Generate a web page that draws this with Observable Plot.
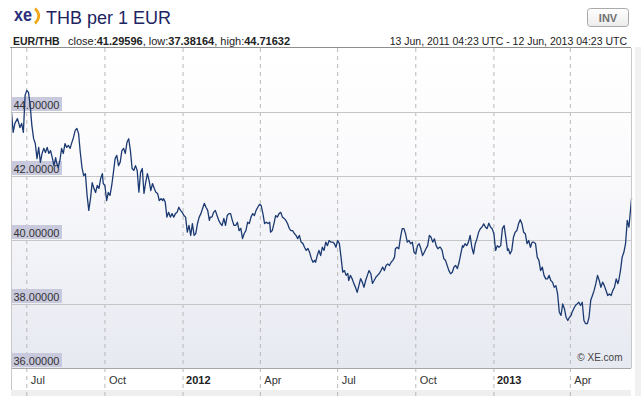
<!DOCTYPE html>
<html>
<head>
<meta charset="utf-8">
<script src="https://cdn.jsdelivr.net/npm/d3@7"></script>
<script src="https://cdn.jsdelivr.net/npm/@observablehq/plot@0.6"></script>
<style>
  body { margin: 0; background: #fff; font-family: "Liberation Sans", Arial, sans-serif; }
  #wrap { position: relative; width: 641px; height: 396px; overflow: hidden; background: #fff; }
  #header { position: absolute; left: 0; top: 0; }
  #chart { position: absolute; left: 0; top: 47px; }
  #strip { position: absolute; left: 11px; top: 390px; width: 620px; height: 6px; background: #efefef; }
  #rstrip { position: absolute; left: 635px; top: 47px; width: 6px; height: 349px; background: #f1f1f1; }
</style>
</head>
<body>
<div id="wrap">
  <div id="strip"></div>
  <div id="rstrip"></div>
  <svg id="header" width="641" height="48" xmlns="http://www.w3.org/2000/svg">
    <defs>
      <linearGradient id="btnGrad" x1="0" y1="0" x2="0" y2="1">
        <stop offset="0" stop-color="#ffffff"/>
        <stop offset="1" stop-color="#ececec"/>
      </linearGradient>
    </defs>
    <text x="14" y="21" font-size="19" font-weight="bold" fill="#28307c" textLength="18" lengthAdjust="spacingAndGlyphs" font-family="Liberation Sans, Arial, sans-serif">xe</text>
    <path d="M35,8.5 Q42.5,16 35,23.5" stroke="#f0a818" stroke-width="2.6" fill="none"/>
    <text x="46" y="24" font-size="18" fill="#1d2462" font-family="Liberation Sans, Arial, sans-serif">THB per 1 EUR</text>
    <text x="13" y="45" font-size="10.5" font-weight="bold" fill="#222" font-family="Liberation Sans, Arial, sans-serif">EUR/THB</text>
    <text x="68" y="45" font-size="11" fill="#222" font-family="Liberation Sans, Arial, sans-serif">close:<tspan font-weight="bold">41.29596</tspan>, low:<tspan font-weight="bold">37.38164</tspan>, high:<tspan font-weight="bold">44.71632</tspan></text>
    <text x="627" y="45" font-size="10.5" fill="#222" text-anchor="end" font-family="Liberation Sans, Arial, sans-serif">13 Jun, 2011 04:23 UTC - 12 Jun, 2013 04:23 UTC</text>
    <rect x="587.5" y="8.5" width="41" height="18" rx="3" fill="url(#btnGrad)" stroke="#aaaaaa"/>
    <text x="608" y="21.5" font-size="11" font-weight="bold" fill="#707070" text-anchor="middle" font-family="Liberation Sans, Arial, sans-serif">INV</text>
    <line x1="10" x2="631" y1="47.5" y2="47.5" stroke="#8e8e8e"/>
  </svg>
  <div id="chart"></div>
</div>
<script>
// ---- data: EUR/THB, day offset from start date and rate ----
const startDate = "2011-06-13";
const endDate = "2013-06-12";

// Jun 2011 - Feb 2012
const daysA = [0,2,4,7,10,12,14,16,18,20,22,24,26,28,30,32,34,36,38,40,42,44,46,48,50,52,53,55,57,59,61,63,65,67,69,71,73,75,77,79,81,83,85,87,89,91,93,95,97,99,101,103,105,107,108,110,112,114,116,118,120,122,124,126,
  128,130,132,134,136,138,140,142,144,146,148,150,152,154,156,158,160,162,164,166,168,170,172,174,176,178,179,181,183,185,187,189,191,193,195,197,199,201,203,205,207,209,211,213,215,217,219,221,223,225,227,229,231,233,234,236,238,240,242,244,246,248,250];
const ratesA = [44.01,43.38,43.66,43.81,43.53,43.66,43.38,44.53,44.69,44.63,44.22,43.59,43.19,43.03,42.56,42.91,42.44,42.72,42.88,42.75,42.91,42.72,42.81,42.59,42.34,42.59,42.44,42.28,42.5,42.88,42.72,43.03,42.91,42.97,42.88,43.06,43.22,43.44,43.5,43.34,42.75,42.28,42.03,42.09,41.41,40.94,41.31,41.81,41.63,41.5,41.72,41.63,41.94,42.09,41.78,41.72,41.25,41.5,41.41,41.72,42.13,42.56,42.66,42.34,
  42.45,42.81,42.88,42.72,43.07,43.18,42.81,42.25,42.19,42.34,42.19,41.51,42.13,42.25,41.47,41.82,42.09,41.88,41.56,41.78,41.63,41.51,41.47,41.25,41.31,41.25,41.31,41.2,40.73,40.88,40.73,40.84,40.73,40.84,40.88,41.04,40.94,40.88,40.78,40.73,40.26,40.47,40.16,40.53,40.16,40.22,40.53,40.73,40.84,41.0,41.16,41.04,40.94,40.63,40.73,40.73,40.88,40.94,40.78,40.63,40.53,40.47,40.69];

// Feb 2012 - Oct 2012
const daysB = [252,254,256,258,260,262,264,266,268,270,272,274,276,278,280,282,284,286,288,290,292,294,296,298,300,302,304,305,307,309,311,313,315,317,319,321,323,325,327,329,331,333,335,337,339,341,343,345,347,349,351,353,355,357,358,360,362,364,366,368,370,372,374,376,
  378,380,382,384,386,388,390,392,394,396,397,399,401,403,405,407,409,411,413,415,417,419,421,423,425,427,429,431,433,435,437,439,441,443,445,447,449,451,452,454,456,458,460,462,464,466,468,470,472,474,476,478,480,482,484,486,488,490,492,494,496,498,500,502,504];
const ratesB = [40.47,40.78,40.84,40.84,40.63,40.47,40.47,40.57,40.31,40.38,40.06,40.22,40.31,40.57,40.53,40.73,40.84,40.78,40.94,41.04,41.13,41.09,40.84,40.53,40.57,40.53,40.57,40.26,40.31,40.53,40.78,40.73,40.84,40.88,40.73,40.69,40.63,40.53,40.38,40.31,40.31,40.22,40.16,40.06,40.16,39.95,39.91,39.79,39.69,39.75,39.63,39.44,39.32,39.38,39.32,39.53,39.69,39.53,39.79,39.69,39.95,39.84,40.0,39.95,
  39.95,39.91,39.79,40.0,39.91,39.48,39.01,39.06,38.91,38.97,38.75,38.91,38.81,38.66,38.54,38.38,38.59,38.81,38.7,38.54,38.75,38.91,39.06,38.97,38.66,38.75,38.85,38.91,38.97,39.06,39.17,39.06,39.22,39.27,39.22,39.32,39.38,39.48,39.74,39.79,39.74,40.1,40.37,40.37,40.21,39.95,40.0,39.9,39.95,39.63,39.58,39.84,39.9,39.74,39.53,39.63,39.74,39.84,40.16,40.1,39.95,40.05,39.84,39.74,39.79];

// Oct 2012 - Jun 2013
const daysC = [505,507,509,511,513,515,517,519,521,523,525,527,529,531,532,534,536,538,540,542,544,546,548,550,552,554,556,558,560,562,564,566,568,570,572,574,576,578,580,582,584,585,587,589,591,593,595,597,599,601,603,605,607,609,611,613,615,617,619,621,623,625,627,629,631,
  633,635,637,639,641,643,645,647,649,651,653,655,657,659,660,662,664,666,668,670,672,674,676,678,680,682,684,686,688,690,692,694,696,698,700,702,704,706,708,710,712,714,715,717,719,721,723,725,727,730];
const ratesC = [39.79,39.69,39.43,39.38,39.22,39.06,38.96,39.01,39.17,39.22,39.12,39.32,39.58,39.84,39.79,39.9,39.84,39.95,40.16,39.79,39.58,39.9,40.05,40.26,40.37,40.42,40.52,40.42,40.37,40.54,40.42,40.37,40.21,39.69,39.84,39.79,39.84,40.37,40.47,40.1,39.69,39.74,39.58,39.69,40.1,40.26,40.31,40.52,40.65,40.52,40.26,40.21,39.9,40.0,39.79,39.95,39.95,39.9,39.48,39.38,39.06,39.17,38.91,38.8,38.8,
  38.91,38.75,38.7,38.54,38.59,38.33,37.76,37.66,38.02,37.87,37.6,37.5,37.6,37.66,37.76,37.87,37.97,38.02,38.07,37.97,38.07,37.5,37.4,37.4,37.6,38.13,38.28,38.44,38.65,38.91,38.75,38.54,38.7,38.59,38.44,38.28,38.33,38.28,38.44,38.54,38.8,38.65,38.75,39.06,39.48,39.63,39.9,40.63,40.42,41.30];

// axis ticks and labels
const yTicks = [36, 38, 40, 42, 44];
const yGrid = [38, 40, 42, 44];
const monthTicks = ["2011-07-01", "2011-10-01", "2012-04-01", "2012-07-01", "2012-10-01", "2013-04-01"];
const monthLabels = ["Jul", "Oct", "Apr", "Jul", "Oct", "Apr"];
const yearTicks = ["2012-01-01", "2013-01-01"];
const yearLabels = ["2012", "2013"];
const credit = "© XE.com";

// ---- build table ----
const parse = d3.utcParse("%Y-%m-%d");
const start = parse(startDate);
const end = parse(endDate);
const rows = (days, rates) => days.map((d, i) => ({date: d3.utcDay.offset(start, d), rate: rates[i]}));
const data = [...rows(daysA, ratesA), ...rows(daysB, ratesB), ...rows(daysC, ratesC)];
const months = monthTicks.map((t, i) => ({date: parse(t), label: monthLabels[i]}));
const years = yearTicks.map((t, i) => ({date: parse(t), label: yearLabels[i]}));
const allTicks = [...months, ...years];

const defs = () => {
  const ns = "http://www.w3.org/2000/svg";
  const g = document.createElementNS(ns, "defs");
  g.innerHTML = `<linearGradient id="bgGrad" x1="0" y1="0" x2="0" y2="1">
      <stop offset="0" stop-color="#ffffff"/>
      <stop offset="0.35" stop-color="#fbfbfd"/>
      <stop offset="1" stop-color="#e7e9f1"/>
    </linearGradient>`;
  return g;
};

const chart = Plot.plot({
  width: 641,
  height: 349,
  marginTop: 1,
  marginBottom: 28,
  marginLeft: 11,
  marginRight: 10,
  style: {background: "transparent", fontFamily: "Liberation Sans, Arial, sans-serif", fontSize: "11px", overflow: "visible"},
  x: {type: "utc", domain: [start, end], axis: null},
  y: {domain: [36, 46], axis: null},
  marks: [
    defs,
    Plot.frame({fill: "url(#bgGrad)", stroke: "none"}),
    Plot.ruleX(allTicks, {x: "date", stroke: "#b8b8b8", strokeDasharray: "4,4", insetBottom: -28}),
    Plot.ruleY(yGrid, {stroke: "#c6c6c6"}),
    Plot.rect(yTicks, {x1: () => start, x2: () => start, y1: d => d, y2: d => d,
      insetRight: -51, insetTop: -15, insetBottom: 1, fill: "#c8c9dd"}),
    Plot.text(yTicks, {x: () => start, y: d => d, text: d => d.toFixed(5), textAnchor: "start",
      dx: 2, dy: -7, fill: "#333", fontSize: 11}),
    Plot.line(data, {x: "date", y: "rate", stroke: "#1c3a72", strokeWidth: 1.3}),
    Plot.ruleY([36], {stroke: "#a6a6a6"}),
    Plot.ruleX([start], {stroke: "#c8c8c8", insetBottom: -22}),
    Plot.ruleX([end], {stroke: "#c8c8c8"}),
    Plot.text(months, {x: "date", y: () => 36, text: "label", textAnchor: "start", dx: 4, dy: 12, fill: "#333", fontSize: 11}),
    Plot.text(years, {x: "date", y: () => 36, text: "label", textAnchor: "start", dx: 3, dy: 12, fill: "#222", fontSize: 11, fontWeight: "bold"}),
    Plot.text([credit], {frameAnchor: "bottom-right", text: d => d, textAnchor: "end", dx: -9, dy: -8, fill: "#444", fontSize: 10})
  ]
});
document.getElementById("chart").appendChild(chart);
</script>
</body>
</html>
